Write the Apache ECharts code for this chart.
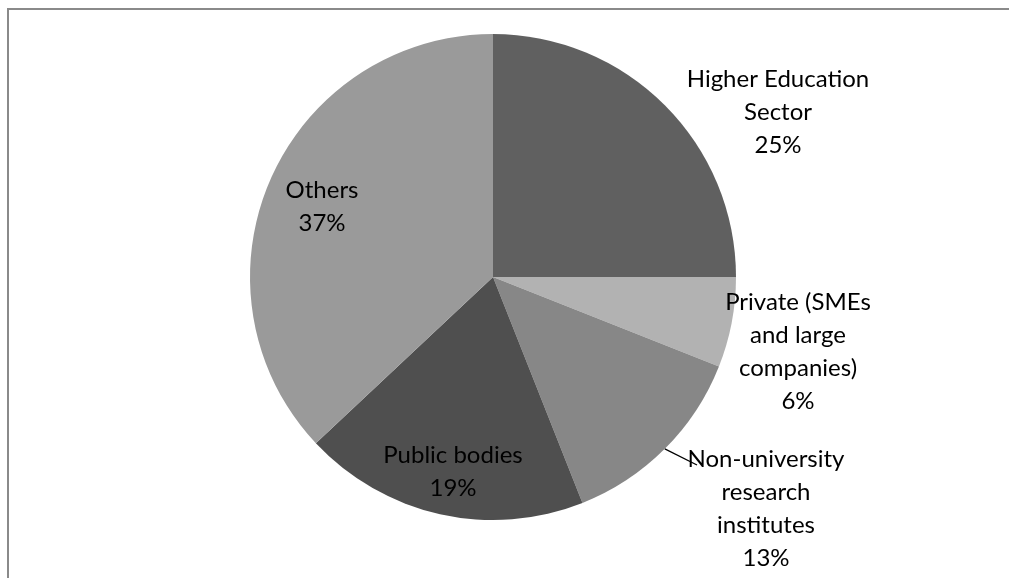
<!DOCTYPE html>
<html>
<head>
<meta charset="utf-8">
<script src="https://cdn.jsdelivr.net/npm/echarts@6/dist/echarts.min.js"></script>
<style>
  html, body { margin: 0; padding: 0; background: #fff; }
  #chart { width: 1009px; height: 578px; }
</style>
</head>
<body>
<div id="chart"></div>
<script>
// Shares of participants by organisation type
const categories = [
  'Higher Education\nSector',
  'Private (SMEs\nand large\ncompanies)',
  'Non-university\nresearch\ninstitutes',
  'Public bodies',
  'Others'
];
const shares = [25, 6, 13, 19, 37];
const sliceColors = ['#606060', '#b2b2b2', '#878787', '#4f4f4f', '#9a9a9a'];

// Label anchor points (centre of each text block), in pixels
const labelCenters = [
  [778, 112],
  [798, 352],
  [766, 509],
  [453, 472],
  [322, 207]
];

const pieCenter = [493, 277];
const pieRadius = 243;

// Leader line for the "Non-university" label: from the slice's mid-arc
// point out to the start of the label's first line.
const leaderIndex = 2;
const total = shares.reduce((a, b) => a + b, 0);
const before = shares.slice(0, leaderIndex).reduce((a, b) => a + b, 0);
const midAngle = (before + shares[leaderIndex] / 2) / total * 2 * Math.PI; // clockwise from 12 o'clock
const leaderStart = [
  pieCenter[0] + pieRadius * Math.sin(midAngle),
  pieCenter[1] - pieRadius * Math.cos(midAngle)
];
const leaderEnd = [697, 465];

const chart = echarts.init(document.getElementById('chart'), null, { renderer: 'canvas' });

chart.setOption({
  animation: false,
  graphic: [{
    type: 'polyline',
    shape: { points: [[1100, 9], [8, 9], [8, 700]] },
    style: { fill: 'none', stroke: '#8a8a8a', lineWidth: 2 },
    silent: true
  }, {
    type: 'line',
    shape: { x1: leaderStart[0], y1: leaderStart[1], x2: leaderEnd[0], y2: leaderEnd[1] },
    style: { stroke: '#000', lineWidth: 1.3 },
    z: 10,
    silent: true
  }],
  series: [{
    type: 'pie',
    center: pieCenter,
    radius: pieRadius,
    startAngle: 90,
    clockwise: true,
    data: categories.map((name, i) => ({
      name: name,
      value: shares[i],
      itemStyle: { color: sliceColors[i] }
    })),
    label: {
      show: true,
      position: 'outside',
      formatter: '{b}\n{d}%',
      color: '#000',
      fontFamily: 'Lato',
      fontSize: 24,
      lineHeight: 33,
      align: 'center'
    },
    labelLine: { show: false },
    labelLayout: function (params) {
      const c = labelCenters[params.dataIndex];
      return { x: c[0], y: c[1], align: 'center', verticalAlign: 'middle' };
    },
    itemStyle: { borderWidth: 0 },
    emphasis: { disabled: true }
  }]
});
</script>
</body>
</html>
